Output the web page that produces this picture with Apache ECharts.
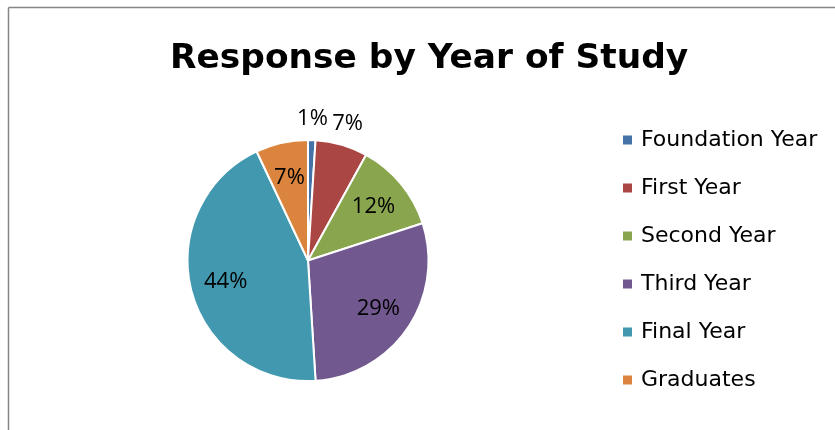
<!DOCTYPE html>
<html>
<head>
<meta charset="utf-8">
<script src="https://cdn.jsdelivr.net/npm/echarts@6/dist/echarts.min.js"></script>
<style>
  html, body { margin: 0; padding: 0; background: #fff; }
  #chart { width: 835px; height: 430px; }
</style>
</head>
<body>
<div id="chart"></div>
<script>
// Survey responses by year of study (percent of respondents)
const categories = ['Foundation Year', 'First Year', 'Second Year', 'Third Year', 'Final Year', 'Graduates'];
const shares = [1, 7, 12, 29, 44, 7];
const sliceColors = ['#4572A7', '#AA4643', '#89A54E', '#71588F', '#4198AF', '#DB843D'];
// Small slices get their label outside the pie, the rest inside
const outsideLabel = [true, true, false, false, false, false];

const TITLE_FONT = '"DejaVu Sans", "Open Sans", sans-serif';
const LEGEND_FONT = '"DejaVu Sans", "Open Sans", sans-serif';
const LABEL_FONT = '"Open Sans", "Noto Sans", sans-serif';
const CX = 308, CY = 260.5, R = 120.5;

const pieData = categories.map((name, i) => ({
  name,
  value: shares[i],
  itemStyle: { color: sliceColors[i] }
}));

function labelRing(showOutside) {
  return categories.map((name, i) => ({
    name,
    value: shares[i],
    itemStyle: { color: 'rgba(0,0,0,0)' },
    label: { show: outsideLabel[i] === showOutside }
  }));
}

const labelStyle = {
  position: 'inside',
  formatter: '{c}%',
  color: '#000',
  fontFamily: LABEL_FONT,
  fontSize: 22
};

const chart = echarts.init(document.getElementById('chart'), null, { renderer: 'canvas' });
chart.setOption({
  animation: false,
  backgroundColor: '#fff',
  title: {
    text: 'Response by Year of Study',
    left: 165,
    top: 37,
    textStyle: { fontFamily: TITLE_FONT, fontWeight: 'bold', fontSize: 34.4, color: '#000' }
  },
  legend: {
    orient: 'vertical',
    left: 616,
    top: 124,
    icon: 'rect',
    itemWidth: 11,
    itemHeight: 11,
    itemGap: 26,
    data: categories,
    selectedMode: false,
    textStyle: { fontFamily: LEGEND_FONT, fontSize: 22, color: '#000', lineHeight: 22, padding: [0, 0, 0, 3] }
  },
  graphic: [
    { type: 'line', shape: { x1: 8.5, y1: 7.5, x2: 835, y2: 7.5 }, style: { stroke: '#868686', lineWidth: 1.5 } },
    { type: 'line', shape: { x1: 8.5, y1: 7.5, x2: 8.5, y2: 430 }, style: { stroke: '#868686', lineWidth: 1.5 } }
  ],
  series: [
    {
      type: 'pie',
      center: [CX, CY],
      radius: [0, R],
      startAngle: 90,
      clockwise: true,
      avoidLabelOverlap: false,
      silent: true,
      label: { show: false },
      labelLine: { show: false },
      itemStyle: { borderColor: '#fff', borderWidth: 2 },
      data: pieData
    },
    {
      // label ring for the inside labels
      type: 'pie',
      center: [CX, CY],
      radius: [0, 164],
      startAngle: 90,
      clockwise: true,
      avoidLabelOverlap: false,
      silent: true,
      label: labelStyle,
      labelLine: { show: false },
      data: labelRing(false)
    },
    {
      // label ring for the labels above the thin slices
      type: 'pie',
      center: [CX, CY],
      radius: [120, 158],
      startAngle: 90,
      clockwise: true,
      avoidLabelOverlap: false,
      silent: true,
      label: labelStyle,
      labelLine: { show: false },
      data: labelRing(true)
    }
  ]
});
</script>
</body>
</html>
